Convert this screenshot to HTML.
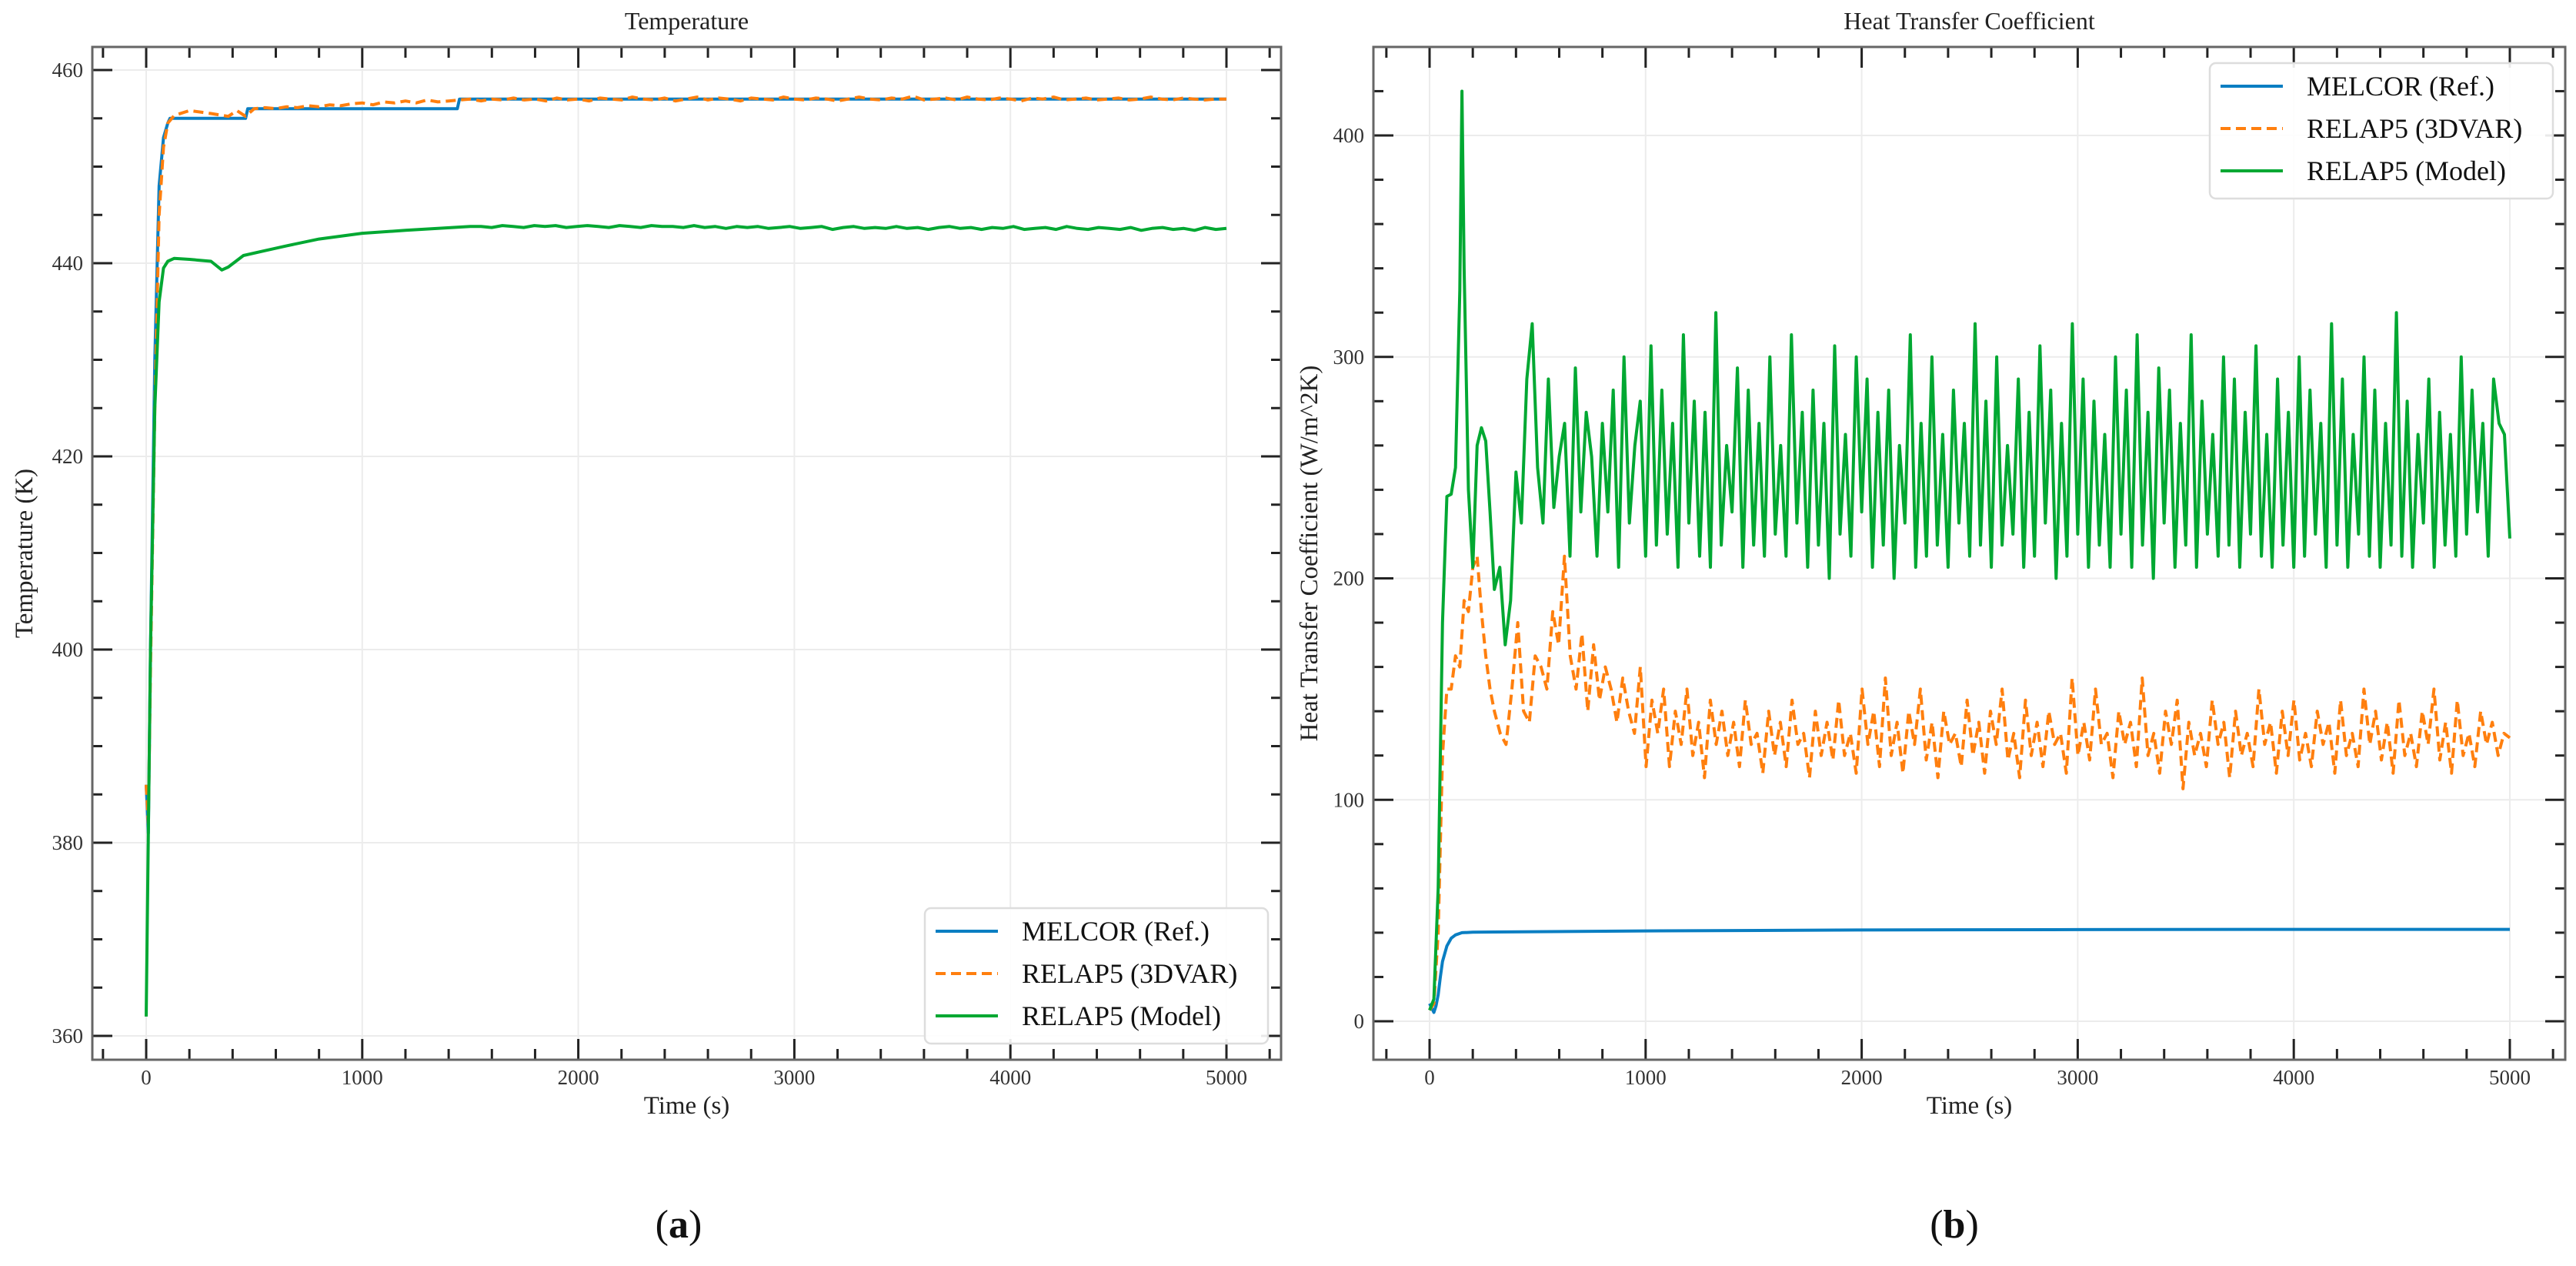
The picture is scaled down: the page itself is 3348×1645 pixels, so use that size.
<!DOCTYPE html>
<html><head><meta charset="utf-8"><style>
html,body{margin:0;padding:0;background:#fff;}
svg{display:block;font-family:"Liberation Serif",serif;}
</style></head><body>
<svg id="fig" width="3348" height="1645" viewBox="0 0 3348 1645" xmlns="http://www.w3.org/2000/svg">
<g id="pa"></g>
<g id="pb"></g>
<text x="882" y="1608" font-size="52" text-anchor="middle" fill="#111">(<tspan font-weight="bold">a</tspan>)</text>
<text x="2540" y="1608" font-size="52" text-anchor="middle" fill="#111">(<tspan font-weight="bold">b</tspan>)</text>
</svg>
<script>
// ---------- Temperature data ----------
const tMelcorT = [0,10,20,40,60,80,100,110,120,460,470,1440,1450,5000];
const vMelcorT = [386,381,400,430,448,453,454.5,455,455,455,456,456,457,457];
const tRelapVarTEarly = [0,10,20,40,60,80,100,130,200,300,380,420,460];
const vRelapVarTEarly = [386,382,398,425,445,452,454.5,455.3,455.8,455.5,455.2,455.8,455.2];
const vRelapVarTLate = [456,456.1,456,456.2,456.1,456.3,456.2,456.4,456.3,456.5,456.6,456.4,456.7,456.6,456.8,456.6,456.9,456.7,456.8,456.9,
 457,456.8,457,456.9,457.1,456.9,457,456.8,457.1,456.9,457,456.8,457.1,457,456.9,457.2,457,456.9,457.1,456.8,
 457,457.2,456.9,457.1,457,456.8,457.1,457,456.9,457.2,457,456.9,457.1,457,456.8,457,457.2,457,456.9,457.1,
 457,457.3,456.9,457,457.1,456.9,457.2,457,456.9,457.1,457,456.8,457.1,457,457.2,456.9,457,457.1,456.9,457,
 457.1,456.9,457,457.2,457,456.9,457.1,457,456.9,457,457];
const tModelTEarly = [0,20,40,60,80,100,130,200,300,350,380,450,550,650,800,1000,1200,1500];
const vModelTEarly = [362,400,425,436,439.5,440.2,440.5,440.4,440.2,439.3,439.6,440.8,441.3,441.8,442.5,443.1,443.4,443.8];
const vModelTLate = [443.8,443.7,443.9,443.8,443.7,443.9,443.8,443.9,443.7,443.8,443.9,443.8,443.7,443.9,443.8,443.7,443.9,443.8,443.8,443.7,
 443.9,443.7,443.8,443.6,443.8,443.7,443.8,443.6,443.7,443.8,443.6,443.7,443.8,443.5,443.7,443.8,443.6,443.7,443.6,443.8,
 443.6,443.7,443.5,443.7,443.8,443.6,443.7,443.5,443.7,443.6,443.8,443.5,443.6,443.7,443.5,443.8,443.6,443.5,443.7,443.6,
 443.5,443.7,443.4,443.6,443.7,443.5,443.6,443.4,443.7,443.5,443.6];
// ---------- HTC data ----------
const tMelcorH = [0,10,20,30,40,50,60,80,100,120,150,200,300,1000,2000,3000,4000,5000];
const vMelcorH = [8,6,4,7,12,20,27,34,37.5,39,40,40.2,40.3,40.8,41.2,41.4,41.5,41.5];
const tRelapVarHEarly = [0,20,40,60,80,100,120,140,160,180,200,220,240,260,280];
const vRelapVarHEarly = [5,8,40,120,150,150,165,160,190,185,205,210,185,165,150];
const vRelapVarHLate = [140,130,125,150,180,140,135,165,160,150,185,170,210,165,150,175,140,170,145,160,
 150,135,155,140,130,160,115,145,130,150,115,140,125,150,120,135,110,145,125,140,
 120,135,115,145,125,130,112,140,120,135,115,145,125,130,110,140,120,135,118,145,
 120,130,112,150,125,140,115,155,120,135,112,140,125,150,118,135,110,140,125,130,
 115,145,120,135,112,140,125,150,118,130,110,145,120,135,115,140,125,130,112,155,
 120,135,118,150,125,130,110,140,125,135,115,155,120,130,112,140,125,145,105,135,
 120,130,115,145,125,135,110,140,120,130,115,150,125,135,112,140,120,145,118,130,
 115,140,125,135,112,145,120,130,115,150,125,140,118,135,112,145,120,130,115,140,
 125,150,118,135,112,145,120,130,115,140,125,135,120,130,128];
const tModelHEarly = [0,20,40,60,80,100,120,140,150,160,180,200,220,240,260,280];
const vModelHEarly = [5,10,60,180,237,238,250,330,420,340,240,205,260,268,262,230];
const vModelHLate = [195,205,170,190,248,225,290,315,250,225,290,232,255,270,210,295,230,275,255,210,
 270,230,285,205,300,225,260,280,210,305,215,285,220,270,205,310,225,280,210,275,
 205,320,215,260,230,295,205,285,215,270,210,300,220,260,210,310,225,275,205,285,
 215,270,200,305,220,265,210,300,230,290,205,275,215,285,200,260,225,310,205,270,
 210,300,215,265,205,285,225,270,210,315,215,280,205,300,215,260,220,290,205,275,
 210,305,225,285,200,270,210,315,220,290,205,280,215,265,205,300,220,285,205,310,
 215,275,200,295,225,285,205,270,215,310,205,280,220,265,210,300,215,290,205,275,
 220,305,210,265,205,290,215,275,205,300,210,285,220,270,205,315,215,290,205,265,
 220,300,210,285,205,270,215,320,210,280,205,265,225,290,205,275,215,265,210,300,
 220,285,230,270,210,290,270,265,218];
const xTicks = [0,1000,2000,3000,4000,5000];
const yTicksT = [360,380,400,420,440,460];
const yTicksH = [0,100,200,300,400];
const seriesNames = ["MELCOR (Ref.)","RELAP5 (3DVAR)","RELAP5 (Model)"];

const NS="http://www.w3.org/2000/svg";
const C_BLUE="#0a7ec2", C_OR="#ff7f0e", C_GR="#00a832";
function mk(tag, parent){const e=document.createElementNS(NS,tag);parent.appendChild(e);return e;}
function lateTimes(start,end,n){const a=[];for(let i=0;i<n;i++)a.push(start+(end-start)*i/(n-1));return a;}

function panel(g, cfg){
  const L=cfg.L,R=cfg.R,T=61,B=1377;
  const xs=v=>cfg.x0+(v)*(cfg.x5-cfg.x0)/5000;
  const ys=v=>cfg.yA+(v-cfg.vA)*(cfg.yB-cfg.yA)/(cfg.vB-cfg.vA);
  // grid
  for(const t of xTicks){const l=mk('line',g);l.setAttribute('x1',xs(t));l.setAttribute('x2',xs(t));l.setAttribute('y1',T);l.setAttribute('y2',B);l.setAttribute('stroke','#ececec');l.setAttribute('stroke-width','2');
    
    }
  for(const t of cfg.yTicks){const l=mk('line',g);l.setAttribute('x1',L);l.setAttribute('x2',R);l.setAttribute('y1',ys(t));l.setAttribute('y2',ys(t));l.setAttribute('stroke','#ececec');l.setAttribute('stroke-width','2');
    
    }
  // series
  const drawLine=(ts,vs,color,dash,name)=>{
    const p=mk('polyline',g);
    p.setAttribute('points',ts.map((t,i)=>xs(t).toFixed(1)+','+ys(vs[i]).toFixed(1)).join(' '));
    p.setAttribute('fill','none');p.setAttribute('stroke',color);p.setAttribute('stroke-width','4');p.setAttribute('stroke-linejoin','round');
    if(dash)p.setAttribute('stroke-dasharray',dash);
    
    
  };
  for(const s of cfg.series){drawLine(s.t,s.v,s.c,s.d,s.n);}
  // ticks
  const tk=(x1,y1,x2,y2,w)=>{const l=mk('line',g);l.setAttribute('x1',x1);l.setAttribute('y1',y1);l.setAttribute('x2',x2);l.setAttribute('y2',y2);l.setAttribute('stroke','#222');l.setAttribute('stroke-width',w||3);
    
    };
  for(let t=-200;t<=5200;t+=200){const x=xs(t);if(x<L||x>R)continue;const maj=(t%1000===0);const len=maj?27:14;tk(x,B,x,B-len);tk(x,T,x,T+len);}
  for(let v=cfg.yMin;v<=cfg.yMax+1e-6;v+=cfg.yMinor){const y=ys(v);if(y<T||y>B)continue;const maj=Math.abs(v/cfg.yMajor-Math.round(v/cfg.yMajor))<1e-6;const len=maj?26:13;tk(L,y,L+len,y);tk(R,y,R-len,y);}
  // spines
  const sp=mk('rect',g);sp.setAttribute('x',L);sp.setAttribute('y',T);sp.setAttribute('width',R-L);sp.setAttribute('height',B-T);sp.setAttribute('fill','none');sp.setAttribute('stroke','#666');sp.setAttribute('stroke-width','3');
  
  
  // tick labels
  for(const t of xTicks){const tx=mk('text',g);tx.setAttribute('x',xs(t));tx.setAttribute('y',1409);tx.setAttribute('font-size','27');tx.setAttribute('text-anchor','middle');tx.setAttribute('fill','#333');tx.textContent=t;
    
    }
  for(const t of cfg.yTicks){const tx=mk('text',g);tx.setAttribute('x',L-12);tx.setAttribute('y',ys(t)+9);tx.setAttribute('font-size','27');tx.setAttribute('text-anchor','end');tx.setAttribute('fill','#333');tx.textContent=t;
    
    }
  // title & labels
  const ti=mk('text',g);ti.setAttribute('x',(L+R)/2);ti.setAttribute('y',38);ti.setAttribute('font-size','32');ti.setAttribute('text-anchor','middle');ti.setAttribute('fill','#222');ti.textContent=cfg.title;
  
  
  const xl=mk('text',g);xl.setAttribute('x',(L+R)/2);xl.setAttribute('y',1447);xl.setAttribute('font-size','33');xl.setAttribute('text-anchor','middle');xl.setAttribute('fill','#222');xl.textContent='Time (s)';
  
  
  const yl=mk('text',g);yl.setAttribute('transform','translate('+cfg.ylx+','+(T+B)/2+') rotate(-90)');yl.setAttribute('font-size','33');yl.setAttribute('text-anchor','middle');yl.setAttribute('fill','#222');yl.textContent=cfg.ylabel;
  
  
  // legend
  const lg=mk('g',g);
  
  
  const bx=mk('rect',lg);bx.setAttribute('x',cfg.lgX);bx.setAttribute('y',cfg.lgY);bx.setAttribute('width',446);bx.setAttribute('height',176);bx.setAttribute('rx',8);bx.setAttribute('fill','#fff');bx.setAttribute('fill-opacity','0.9');bx.setAttribute('stroke','#ddd');bx.setAttribute('stroke-width','2.5');
  
  
  const cols=[C_BLUE,C_OR,C_GR];
  seriesNames.forEach((nm,i)=>{
    const y=cfg.lgY+30+i*55;
    const h=mk('line',lg);h.setAttribute('x1',cfg.lgX+14);h.setAttribute('x2',cfg.lgX+95);h.setAttribute('y1',y);h.setAttribute('y2',y);h.setAttribute('stroke',cols[i]);h.setAttribute('stroke-width','4');
    if(i===1)h.setAttribute('stroke-dasharray','13,7');
    
    
    const tx=mk('text',lg);tx.setAttribute('x',cfg.lgX+126);tx.setAttribute('y',y+12);tx.setAttribute('font-size','36');tx.setAttribute('fill','#111');tx.textContent=nm;
    
    
  });
}

const tVarT=tRelapVarTEarly.concat(lateTimes(500,5000,vRelapVarTLate.length));
const vVarT=vRelapVarTEarly.concat(vRelapVarTLate);
const tModT=tModelTEarly.concat(lateTimes(1550,5000,vModelTLate.length));
const vModT=vModelTEarly.concat(vModelTLate);
panel(document.getElementById('pa'),{L:120,R:1665,x0:190,x5:1594,yA:91,vA:460,yB:1346,vB:360,yMin:355,yMax:465,yMinor:5,yMajor:20,
  yTicks:yTicksT,title:'Temperature',ylabel:'Temperature (K)',ylx:42,lgX:1202,lgY:1180,
  series:[{t:tMelcorT,v:vMelcorT,c:C_BLUE,n:'melcor-temperature-line'},{t:tVarT,v:vVarT,c:C_OR,d:'13,7',n:'relap5-3dvar-temperature-line'},{t:tModT,v:vModT,c:C_GR,n:'relap5-model-temperature-line'}]});

const tVarH=tRelapVarHEarly.concat(lateTimes(300,5000,vRelapVarHLate.length));
const vVarH=vRelapVarHEarly.concat(vRelapVarHLate);
const tModH=tModelHEarly.concat(lateTimes(300,5000,vModelHLate.length));
const vModH=vModelHEarly.concat(vModelHLate);
panel(document.getElementById('pb'),{L:1785,R:3334,x0:1858,x5:3262,yA:1327,vA:0,yB:176,vB:400,yMin:-20,yMax:440,yMinor:20,yMajor:100,
  yTicks:yTicksH,title:'Heat Transfer Coefficient',ylabel:'Heat Transfer Coefficient (W/m^2K)',ylx:1712,lgX:2872,lgY:82,
  series:[{t:tMelcorH,v:vMelcorH,c:C_BLUE,n:'melcor-htc-line'},{t:tVarH,v:vVarH,c:C_OR,d:'13,7',n:'relap5-3dvar-htc-line'},{t:tModH,v:vModH,c:C_GR,n:'relap5-model-htc-line'}]});
</script>
</body></html>
